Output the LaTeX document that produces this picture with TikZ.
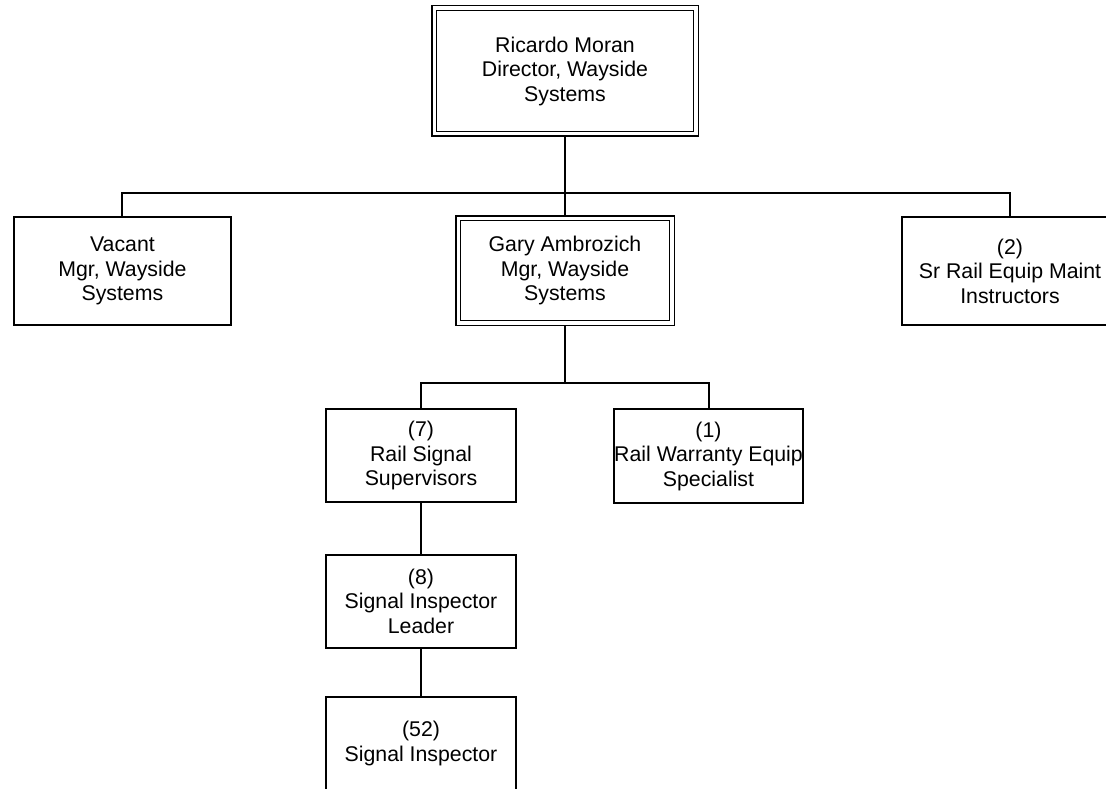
\documentclass[tikz,border=0pt]{standalone}
\usepackage{fontspec}
\setmainfont{Liberation Sans}
\begin{document}
\begin{tikzpicture}[x=1pt,y=-1pt,
  box/.style={draw, line width=2pt, fill=white, inner sep=0pt, outer sep=1pt, align=center,
    font=\fontsize{21.3}{24.5}\selectfont},
  dbox/.style={box, line width=1.5pt, double, double distance=3.3pt, outer sep=3.15pt},
  conn/.style={line width=2pt}]
\useasboundingbox (0,0) rectangle (1106,789);
\clip (0,0) rectangle (1106,789);

\node[dbox, minimum width=261.7pt, minimum height=125.7pt] (rm) at (565,71) {Ricardo Moran\\Director, Wayside\\Systems};
\node[box, minimum width=217pt, minimum height=108pt] (vac) at (122.4,271) {Vacant\\Mgr, Wayside\\Systems};
\node[dbox, minimum width=213.7pt, minimum height=104.7pt] (ga) at (565,270.5) {Gary Ambrozich\\Mgr, Wayside\\Systems};
\node[box, minimum width=217pt, minimum height=108pt] (sr) at (1010,271) {(2)\\Sr Rail Equip Maint\\Instructors};
\node[box, minimum width=189.7pt, minimum height=93.5pt] (rs) at (421,455.7) {(7)\\Rail Signal\\Supervisors};
\node[box, minimum width=189.7pt, minimum height=94pt] (rw) at (708.5,456) {(1)\\Rail Warranty Equip\\Specialist};
\node[box, minimum width=189.7pt, minimum height=93.5pt] (sil) at (421,601.3) {(8)\\Signal Inspector\\Leader};
\node[box, minimum width=189.7pt, minimum height=93.5pt] (si) at (421,743.7) {(52)\\Signal Inspector};

\coordinate (b1) at (565,193);
\draw[conn] (rm.south) -- (b1);
\draw[conn] (vac.north) |- (b1) -| (sr.north);
\draw[conn] (b1) -- (ga.north);

\coordinate (b2) at (565,383);
\draw[conn] (ga.south) -- (b2);
\draw[conn] (rs.north) |- (b2) -| (rw.north);
\draw[conn] (rs.south) -- (sil.north);
\draw[conn] (sil.south) -- (si.north);
\end{tikzpicture}
\end{document}
